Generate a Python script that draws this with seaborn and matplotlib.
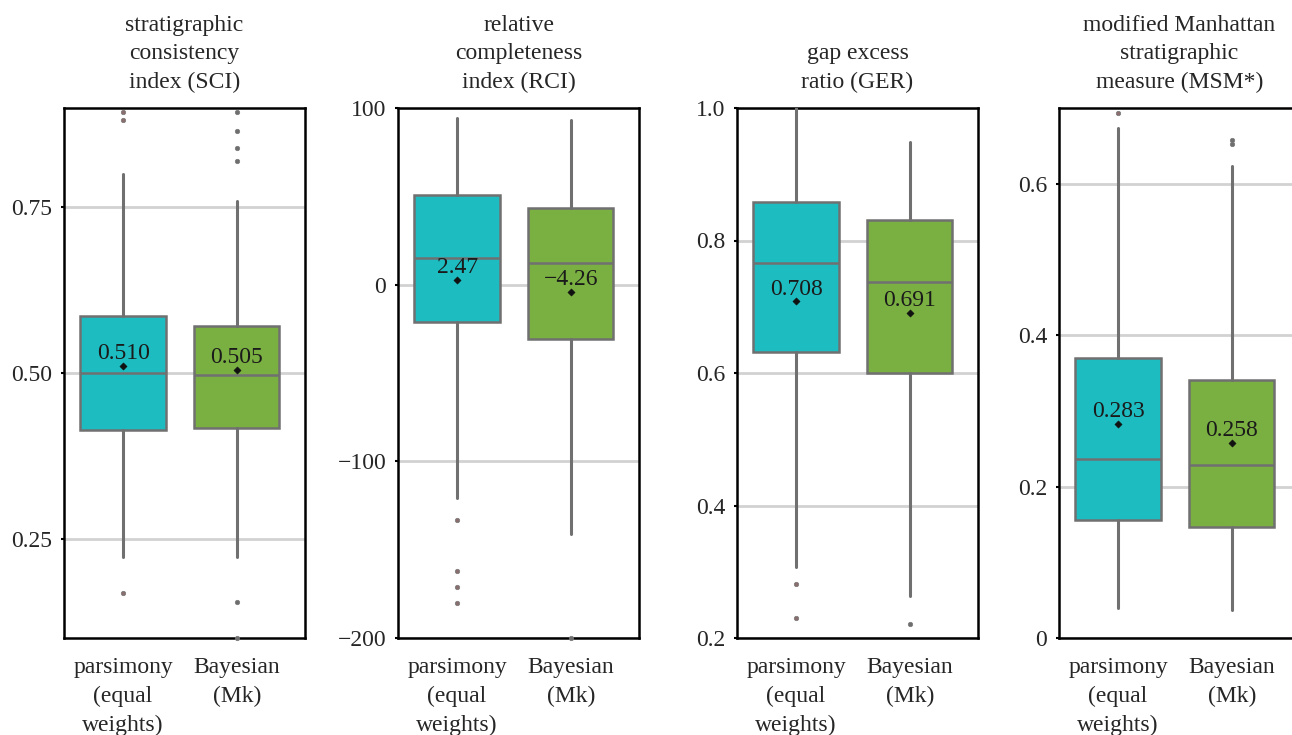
import matplotlib.pyplot as plt
import numpy as np
import seaborn as sns

# categories and panel titles
groups = ["parsimony\n(equal\nweights)", "Bayesian\n(Mk)"]
titles = ["stratigraphic\nconsistency\nindex (SCI)",
          "relative\ncompleteness\nindex (RCI)",
          "gap excess\nratio (GER)",
          "modified Manhattan\nstratigraphic\nmeasure (MSM*)"]

# box statistics, [parsimony, Bayesian]
sci_low = [0.223, 0.223]
sci_q1 = [0.414, 0.417]
sci_med = [0.500, 0.497]
sci_q3 = [0.586, 0.571]
sci_high = [0.800, 0.760]
sci_mean = [0.510, 0.505]
sci_fliers = [[0.894, 0.882, 0.168], [0.894, 0.865, 0.840, 0.820, 0.155, 0.100]]

rci_low = [-121, -141]
rci_q1 = [-21, -30.6]
rci_med = [15.3, 12.5]
rci_q3 = [51, 43.6]
rci_high = [94.3, 93]
rci_mean = [2.47, -4.26]
rci_fliers = [[-133, -162, -171, -180], [-200]]

ger_low = [0.307, 0.263]
ger_q1 = [0.632, 0.600]
ger_med = [0.766, 0.738]
ger_q3 = [0.858, 0.831]
ger_high = [1.0, 0.949]
ger_mean = [0.708, 0.691]
ger_fliers = [[0.282, 0.230], [0.221]]

msm_low = [0.040, 0.037]
msm_q1 = [0.156, 0.147]
msm_med = [0.237, 0.229]
msm_q3 = [0.370, 0.341]
msm_high = [0.674, 0.623]
msm_mean = [0.283, 0.258]
msm_fliers = [[0.693], [0.658, 0.652]]

# axis settings per panel
ylims = [(0.1, 0.9), (-200, 100), (0.2, 1.0), (0, 0.7)]
yticks = [[0.25, 0.50, 0.75], [-200, -100, 0, 100], [0.2, 0.4, 0.6, 0.8, 1.0], [0, 0.2, 0.4, 0.6]]
ytick_labels = [["0.25", "0.50", "0.75"], ["\u2212200", "\u2212100", "0", "100"],
                ["0.2", "0.4", "0.6", "0.8", "1.0"], ["0", "0.2", "0.4", "0.6"]]
mean_fmt = ["{:.3f}", "{:.2f}", "{:.3f}", "{:.3f}"]

panels = [
    (sci_low, sci_q1, sci_med, sci_q3, sci_high, sci_mean, sci_fliers),
    (rci_low, rci_q1, rci_med, rci_q3, rci_high, rci_mean, rci_fliers),
    (ger_low, ger_q1, ger_med, ger_q3, ger_high, ger_mean, ger_fliers),
    (msm_low, msm_q1, msm_med, msm_q3, msm_high, msm_mean, msm_fliers),
]

box_colors = ["#1dbcc1", "#7ab041"]
flier_colors = ["#8a6e6e", "#6e6e6e"]
line_color = "#707070"

sns.set_style("whitegrid")
plt.rcParams['font.family'] = ['Liberation Serif', 'DejaVu Serif']
plt.rcParams['font.size'] = 17
plt.rcParams['axes.unicode_minus'] = True

W, H = 1292, 735
fig = plt.figure(figsize=(W / 100, H / 100), dpi=100)
lefts = [64, 398, 737, 1059]
ax_w, ax_top, ax_bottom = 241, 108, 638

for i, (low, q1, med, q3, high, mean, fliers) in enumerate(panels):
    ax = fig.add_axes([lefts[i] / W, (H - ax_bottom) / H, ax_w / W, (ax_bottom - ax_top) / H])

    stats = []
    for j in range(2):
        stats.append(dict(whislo=low[j], q1=q1[j], med=med[j], q3=q3[j],
                          whishi=high[j], fliers=fliers[j], label=groups[j]))

    for j in range(2):
        art = ax.bxp([stats[j]], positions=[j], widths=0.75, patch_artist=True,
                     showcaps=False,
                     boxprops=dict(facecolor=box_colors[j], edgecolor=line_color, linewidth=1.8),
                     medianprops=dict(color=line_color, linewidth=1.8),
                     whiskerprops=dict(color=line_color, linewidth=2.2),
                     flierprops=dict(marker='o', markersize=3.2, markerfacecolor=flier_colors[j],
                                     markeredgecolor="#777777", markeredgewidth=0.5),
                     zorder=3)
        for fl in art['fliers']:
            fl.set_clip_on(False)
            fl.set_zorder(6)

    sns.scatterplot(x=[0, 1], y=mean, marker='D', s=14, color="#111111",
                    edgecolor="#111111", ax=ax, zorder=5, legend=False)
    for j in range(2):
        txt = mean_fmt[i].format(mean[j]).replace("-", "\u2212")
        ax.annotate(txt, (j, mean[j]), xytext=(0, 5), textcoords='offset points',
                    ha='center', va='baseline', fontsize=17, color="#1a1a1a", zorder=6)

    ax.set_xlim(-0.52, 1.6)
    ax.set_ylim(*ylims[i])
    ax.set_xticks([0, 1])
    ax.set_xticklabels(groups, fontsize=17)
    for lbl in ax.get_xticklabels():
        lbl.set_linespacing(1.5)
    ax.set_yticks(yticks[i])
    ax.set_yticklabels(ytick_labels[i], fontsize=17)
    ax.set_title(titles[i], fontsize=17, pad=14.5, linespacing=1.45)

    ax.grid(axis='x', visible=False)
    ax.grid(axis='y', color="#d2d2d2", linewidth=2.0)
    ax.set_axisbelow(True)
    for s in ax.spines.values():
        s.set_visible(True)
        s.set_color("black")
        s.set_linewidth(1.8)
    ax.tick_params(axis='y', left=True, length=2.5, width=1.5, color='black', pad=6)
    ax.tick_params(axis='x', bottom=False, pad=10)

fig.savefig("out.png", dpi=100)
